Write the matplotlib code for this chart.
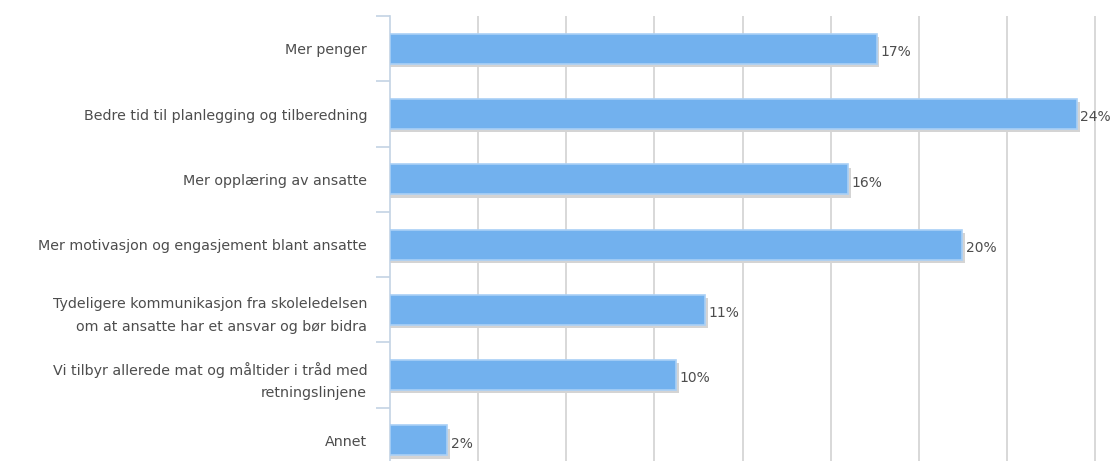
import matplotlib.pyplot as plt
import numpy as np

categories = [
    "Mer penger",
    "Bedre tid til planlegging og tilberedning",
    "Mer opplæring av ansatte",
    "Mer motivasjon og engasjement blant ansatte",
    "Tydeligere kommunikasjon fra skoleledelsen\nom at ansatte har et ansvar og bør bidra",
    "Vi tilbyr allerede mat og måltider i tråd med\nretningslinjene",
    "Annet",
]
values = [17, 24, 16, 20, 11, 10, 2]

bar_color = "#72b1ee"
edge_color = "#a9d0f6"
text_color = "#4d4d4d"

fig = plt.figure(figsize=(11.16, 4.61), dpi=100)
# bottom row runs slightly past the lower edge of the figure
ax = fig.add_axes([0.3495, -0.026, 0.637, 0.991])

y = np.arange(len(categories))
h = 0.46

# soft drop shadow behind each bar
for yi, v in zip(y, values):
    ax.barh(yi + 0.05, v + 0.1, height=h, left=0, color="#d4d4d4", zorder=2)
ax.barh(y, values, height=h, color=bar_color, edgecolor=edge_color,
        linewidth=1.2, zorder=3)

for yi, v in zip(y, values):
    ax.text(v + 0.12, yi + 0.05, f"{v}%", va="center", ha="left",
            fontsize=10, color=text_color, zorder=4)

ax.set_ylim(len(categories) - 0.5, -0.5)
ax.set_xlim(0, 24.84)

# vertical grid every 3.08 units, no tick labels along x
grid_step = 3.079
ax.set_xticks(np.arange(1, 9) * grid_step)
ax.tick_params(axis="x", length=0, labelbottom=False)
ax.grid(axis="x", color="#d6d6d6", linewidth=1.3, zorder=0)

ax.set_yticks(y)
ax.set_yticklabels(categories, fontsize=10.3, color=text_color,
                   linespacing=1.75)
ax.tick_params(axis="y", which="major", length=0, pad=16.5)
ax.set_yticks(np.arange(len(categories)) - 0.5, minor=True)
ax.tick_params(axis="y", which="minor", length=10, width=1.2,
               color="#c4d3e4")

for side in ["top", "right", "bottom"]:
    ax.spines[side].set_visible(False)
ax.spines["left"].set_color("#c4d3e4")
ax.spines["left"].set_linewidth(1.2)

fig.savefig("out.png", dpi=100)
